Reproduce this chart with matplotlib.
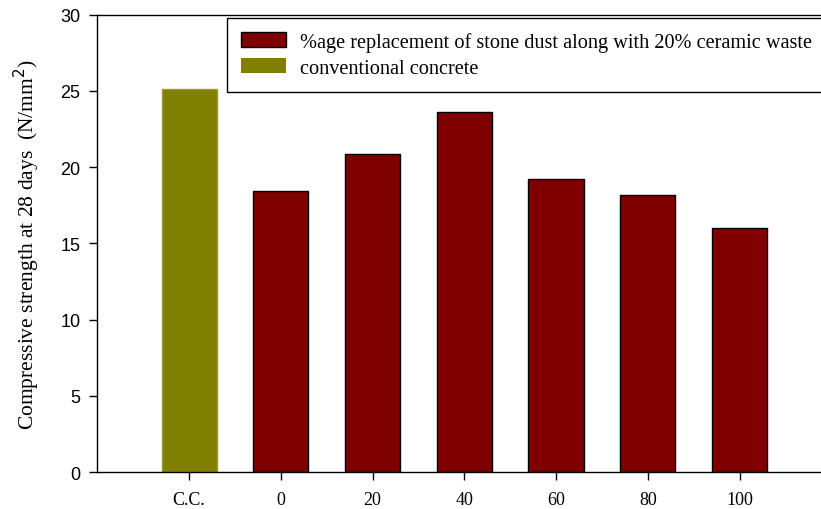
import matplotlib.pyplot as plt
from matplotlib.patches import Patch

categories = ["C.C.", "0", "20", "40", "60", "80", "100"]
strength = [25.15, 18.45, 20.85, 23.6, 19.25, 18.15, 16.0]
bar_colors = ["#808000"] + ["#800000"] * 6
edge_colors = ["#9a9a30"] + ["black"] * 6

serif = ["Liberation Serif", "DejaVu Serif"]
sans = ["Liberation Sans", "DejaVu Sans"]

fig = plt.figure(figsize=(8.21, 5.10), dpi=100)
ax = fig.add_axes([0.1185, 0.0725, 0.894, 0.8967])

x = list(range(len(categories)))
ax.bar(x, strength, width=0.6, color=bar_colors, edgecolor=edge_colors, linewidth=1.0)

ax.set_xlim(-1, 7)
ax.set_ylim(0, 30)
ax.set_yticks([0, 5, 10, 15, 20, 25, 30])
ax.set_xticks(x)
ax.set_xticklabels(categories, family=serif, fontsize=13)
for lbl in ax.get_yticklabels():
    lbl.set_family(sans)
    lbl.set_fontsize(13)
ax.tick_params(axis="both", direction="out", length=6, width=1.0, color="black")
ax.tick_params(axis="x", pad=8)
ax.tick_params(axis="y", pad=6)

ax.spines["right"].set_visible(False)
for s in ["left", "bottom", "top"]:
    ax.spines[s].set_linewidth(1.0)

ax.set_ylabel("Compressive strength at 28 days  (N/mm$^2$)", family=serif,
              fontsize=15.5, labelpad=13)

handles = [Patch(facecolor="#800000", edgecolor="black", linewidth=1.0),
           Patch(facecolor="#808000", edgecolor="#808000", linewidth=0)]
labels = ["%age replacement of stone dust along with 20% ceramic waste",
          "conventional concrete"]
leg = fig.legend(handles, labels, loc="upper left",
                 bbox_to_anchor=(227 / 821, 1 - 19 / 510),
                 prop={"family": serif, "size": 14.6},
                 frameon=True, fancybox=False, edgecolor="black",
                 framealpha=1, borderpad=0.68, labelspacing=0.33,
                 handlelength=2.25, handleheight=0.75, handletextpad=0.65,
                 borderaxespad=0)
leg.get_frame().set_linewidth(1.0)

fig.savefig("out.png", dpi=100)
